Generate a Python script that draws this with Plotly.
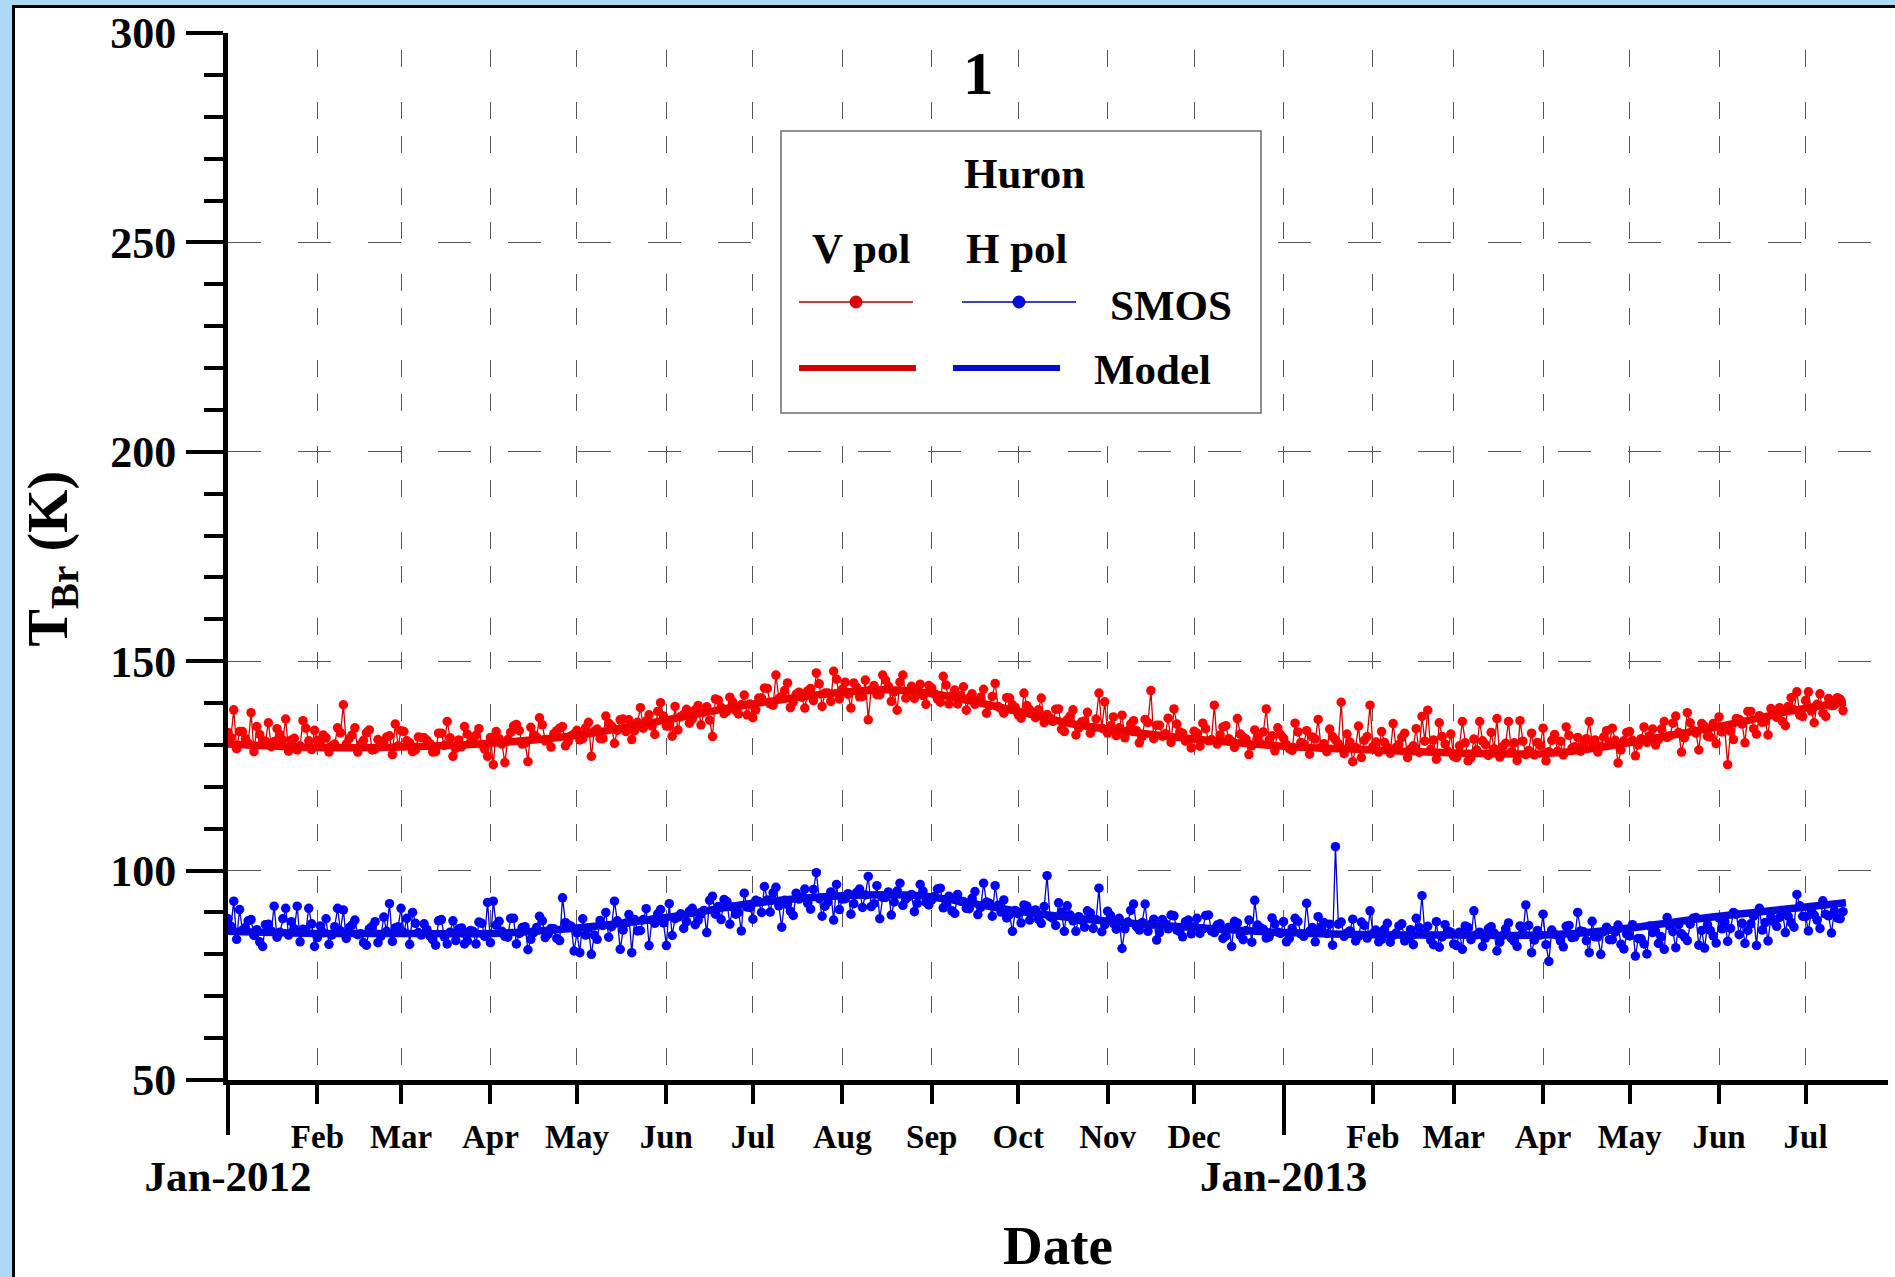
import plotly.graph_objects as go
import pandas as pd

# ---------------- data ----------------
START = pd.Timestamp("2012-01-01")
# SMOS samples: pass A on even days (0, 2, 4, ...), pass B on odd days (1, 3, 5, ...)

v_pol_smos_a = [
    133.0, 138.4, 133.2, 131.5, 137.7, 134.4, 131.0, 135.3, 130.8, 132.5, 136.2, 131.2, 128.8, 135.8, 131.0, 133.5,
    130.5, 131.7, 129.8, 134.1, 139.6, 131.5, 134.1, 130.2, 132.9, 128.8, 131.3, 130.5, 132.2, 135.0,
    133.4, 131.0, 128.4, 131.9, 131.7, 130.3, 128.4, 132.8, 135.6, 127.3, 131.2, 134.4, 130.6, 132.3, 130.1, 127.3,
    125.3, 131.5, 125.8, 133.0, 134.9, 130.2, 126.0, 132.4, 136.5, 131.0, 129.5, 133.4, 134.4, 130.8, 132.6,
    131.2, 134.1, 127.3, 133.8, 131.5, 135.2, 130.4, 136.0, 133.2, 131.3, 135.4, 134.0, 137.2, 132.5, 140.1,
    134.5, 132.1, 133.6, 137.3, 135.2, 138.4, 134.8, 139.1, 132.0, 140.7, 137.5, 141.4, 138.2, 139.6, 137.2,
    136.5, 141.2, 143.6, 139.8, 146.7, 141.5, 144.8, 140.3, 142.6, 138.8, 143.5, 147.2, 139.2, 142.4, 147.6, 141.0,
    145.0, 138.8, 143.7, 141.6, 136.0, 144.2, 142.0, 145.5, 140.4, 138.3, 146.7, 142.8, 141.1, 144.5, 139.7,
    143.6, 141.0, 146.4, 139.8, 143.1, 141.8, 138.3, 142.2, 140.6, 143.3, 139.4, 144.7, 138.7, 141.3, 139.6,
    137.2, 142.4, 138.4, 136.5, 141.2, 137.3, 135.6, 138.6, 133.2, 136.9, 132.4, 135.5, 137.8, 134.1, 142.4, 140.3,
    134.6, 132.2, 137.1, 133.4, 135.8, 130.5, 136.1, 143.0, 134.7, 132.1, 136.4, 138.6, 133.1, 130.9, 129.3,
    132.8, 135.2, 131.0, 139.5, 132.4, 134.6, 130.8, 136.3, 131.9, 127.7, 133.6, 130.4, 138.6, 132.2, 134.1,
    131.6, 129.1, 135.2, 130.6, 133.4, 131.9, 136.1, 130.3, 133.8, 131.2, 140.2, 132.6, 126.0, 134.5, 131.1, 139.5,
    130.7, 133.2, 129.4, 135.1, 130.1, 132.8, 129.0, 133.9, 136.8, 138.3, 131.2, 135.3, 130.2, 132.6,
    127.0, 135.6, 126.2, 131.4, 135.6, 130.1, 133.0, 136.3, 129.6, 135.6, 130.5, 135.8, 127.7, 132.8, 130.6,
    134.0, 128.4, 132.5, 130.9, 134.3, 129.2, 131.8, 130.1, 135.6, 131.2, 129.7, 133.4, 134.0, 125.7, 131.0,
    133.2, 127.4, 131.5, 130.6, 133.8, 131.3, 135.6, 132.2, 136.9, 128.3, 137.7, 133.5, 128.8, 134.4, 131.9, 130.3,
    133.1, 125.3, 131.3, 136.1, 130.5, 138.0, 132.6, 135.4, 132.4, 137.2, 138.9, 134.6, 141.3, 142.7, 136.8,
    142.7, 135.3, 142.2, 136.8, 139.4, 141.3, 138.2,
]

v_pol_smos_b = [
    131.8, 129.1, 133.2, 130.4, 128.4, 132.5, 130.9, 129.6, 133.9, 131.2, 128.5, 131.6, 129.8, 134.0, 128.9, 131.1, 132.4, 128.3, 130.2, 132.9,
    130.2, 132.4, 128.3, 131.1, 133.6, 129.0, 130.6, 131.9, 127.7, 129.8, 133.2, 130.5, 128.8, 131.8, 131.1, 128.3, 132.8, 129.9, 131.7, 129.2,
    129.6, 132.6, 131.1, 133.9, 129.0, 131.8, 133.2, 130.2, 131.3, 134.5, 133.4, 130.5, 134.2, 131.9, 134.8, 131.0, 132.7, 134.0, 129.8, 132.2,
    133.5, 131.5, 135.4, 133.3, 131.5, 136.9, 134.5, 133.5, 136.2, 136.0, 133.4, 138.9, 135.7, 134.5, 138.0, 136.9, 134.5, 139.2, 136.8, 138.5,
    136.2, 139.4, 137.8, 135.9, 141.0, 139.0, 138.1, 140.3, 137.4, 141.9, 139.8, 138.4, 141.2, 143.5, 139.5, 141.1, 143.0, 138.9, 142.1, 141.4,
    142.9, 140.6, 144.6, 142.4, 140.4, 145.7, 143.3, 142.1, 144.8, 141.5, 145.5, 143.2, 142.0, 146.7, 144.0, 142.7, 145.0, 141.2, 144.0, 143.2,
    141.8, 144.2, 142.2, 140.2, 144.3, 141.8, 139.8, 143.9, 141.2, 139.7, 141.4, 137.6, 141.6, 139.2, 137.6, 141.2, 139.0, 136.4, 139.4, 137.4,
    138.4, 135.3, 136.5, 138.5, 133.8, 136.0, 138.4, 134.1, 135.7, 132.8, 136.2, 134.0, 132.8, 136.7, 134.1, 131.7, 135.0, 133.4, 132.0, 135.3,
    131.5, 134.7, 132.7, 130.6, 135.0, 132.8, 131.3, 133.3, 129.7, 133.9, 131.3, 130.2, 134.3, 131.5, 129.4, 132.6, 131.4, 129.8, 131.8, 133.1,
    131.2, 128.6, 132.5, 130.1, 128.7, 133.1, 130.2, 127.8, 131.4, 129.4, 128.4, 132.0, 130.3, 127.9, 130.7, 129.4, 127.0, 132.0, 129.6, 128.3,
    130.6, 128.0, 129.4, 131.8, 127.0, 129.8, 128.2, 130.9, 128.9, 126.6, 132.0, 128.5, 127.3, 129.8, 130.5, 126.9, 128.8, 131.0, 127.5, 129.1,
    127.1, 130.4, 128.3, 126.3, 130.9, 128.7, 127.6, 129.9, 126.2, 131.1, 128.5, 127.6, 132.3, 129.6, 128.5, 131.5, 130.7, 128.3, 131.9, 130.6,
    131.1, 128.8, 133.0, 131.1, 130.0, 134.3, 132.2, 130.0, 133.8, 131.8, 135.2, 133.0, 131.7, 135.3, 132.8, 135.1, 132.1, 135.1, 136.7, 133.6,
    133.3, 136.3, 135.0, 138.0, 133.9, 137.0, 135.6, 138.7, 136.6, 135.6, 139.2, 138.4, 137.1, 140.6, 138.1, 139.7, 137.6, 141.1, 139.5, 140.9,
]

h_pol_smos_a = [
    88.5, 92.7, 90.7, 86.4, 88.3, 85.9, 81.9, 87.2, 91.5, 85.3, 91.0, 87.8, 91.5, 86.0, 91.0, 81.9,
    86.8, 88.5, 84.6, 91.0, 90.6, 86.4, 88.2, 84.9, 82.2, 86.7, 82.8, 88.9, 92.1, 86.3,
    91.0, 88.6, 90.0, 85.2, 87.3, 84.4, 82.2, 88.3, 82.5, 88.0, 86.1, 82.5, 85.7, 82.5, 87.4, 92.4,
    92.7, 87.9, 84.3, 88.6, 82.5, 86.4, 81.1, 85.2, 89.1, 84.0, 86.2, 83.8, 93.5, 87.0, 80.8,
    80.4, 84.6, 80.0, 83.6, 86.9, 84.1, 92.7, 81.2, 87.5, 80.4, 85.6, 88.3, 82.1, 87.4, 90.7,
    82.1, 84.5, 88.9, 86.2, 90.3, 87.1, 89.6, 85.2, 93.9, 91.4, 93.1, 87.2, 89.6, 85.6, 91.3,
    88.4, 92.6, 96.2, 90.1, 96.0, 86.5, 91.9, 89.3, 93.2, 95.6, 90.8, 99.5, 89.1, 92.5, 88.2, 90.7,
    93.3, 89.6, 94.8, 91.2, 98.6, 92.1, 88.5, 93.6, 89.4, 95.1, 91.7, 93.8, 90.2, 96.7, 92.4,
    93.0, 95.6, 91.1, 93.9, 89.8, 92.7, 91.0, 93.4, 89.5, 97.0, 92.2, 96.4, 90.1, 88.7, 85.5,
    89.7, 91.8, 88.2, 90.6, 87.4, 98.8, 88.6, 92.3, 85.5, 89.4, 85.5, 88.1, 90.4, 86.2, 95.8, 87.1,
    89.3, 86.0, 81.4, 87.7, 92.0, 85.8, 92.0, 87.2, 83.4, 88.3, 86.1, 89.2, 85.4, 87.8, 84.9,
    88.6, 86.1, 89.4, 85.2, 87.3, 84.4, 81.9, 87.5, 83.5, 88.2, 92.9, 86.3, 83.9, 88.7, 85.3,
    87.8, 83.8, 88.6, 84.9, 92.2, 86.4, 89.0, 87.6, 87.2, 105.7, 87.7, 85.1, 88.4, 84.3, 86.9, 90.4,
    85.8, 83.6, 87.4, 84.5, 86.8, 83.2, 85.9, 88.6, 94.0, 86.7, 82.3, 81.7, 87.1, 85.3,
    82.1, 81.2, 86.4, 90.4, 85.3, 83.9, 86.6, 80.8, 84.5, 87.5, 83.1, 86.8, 91.8, 80.4, 85.7,
    89.6, 78.3, 84.8, 83.2, 86.7, 84.0, 90.0, 85.4, 80.4, 84.2, 80.0, 86.5, 83.5, 87.0, 81.3,
    84.4, 79.6, 83.7, 80.1, 85.2, 82.6, 81.2, 86.8, 81.6, 84.9, 83.3, 88.6, 82.2, 81.5, 85.7, 82.7,
    86.1, 83.1, 90.0, 84.7, 82.6, 87.3, 82.1, 85.8, 83.2, 87.8, 88.8, 85.2, 87.6, 94.3, 89.1,
    85.6, 89.4, 86.2, 89.6, 85.1, 88.7, 90.2,
]

h_pol_smos_b = [
    86.7, 83.6, 85.8, 88.0, 84.5, 83.0, 87.1, 85.6, 84.1, 88.5, 84.6, 86.1, 83.0, 85.8, 87.3, 84.0, 85.2, 82.4, 86.6, 85.6,
    83.8, 87.0, 84.7, 82.8, 86.1, 87.8, 84.3, 85.5, 83.1, 86.6, 85.2, 82.4, 87.4, 84.6, 85.9, 83.5, 88.0, 84.2, 85.3, 83.3,
    86.3, 83.2, 85.5, 87.7, 84.3, 82.8, 87.0, 85.5, 84.1, 88.6, 85.0, 86.6, 83.6, 86.4, 88.0, 84.8, 86.1, 83.3, 87.6, 86.7,
    85.1, 88.5, 86.3, 84.6, 88.1, 90.0, 86.6, 88.0, 85.8, 89.5, 88.3, 85.7, 90.9, 88.2, 89.7, 87.5, 92.1, 88.5, 89.7, 87.8,
    91.0, 88.1, 90.5, 92.9, 89.6, 88.3, 92.6, 91.3, 90.0, 94.6, 91.2, 92.9, 90.0, 93.0, 94.7, 91.6, 92.9, 90.3, 94.6, 93.7,
    92.2, 95.5, 93.3, 91.5, 94.9, 96.7, 93.2, 94.5, 92.1, 95.6, 94.2, 91.4, 96.4, 93.6, 94.9, 92.5, 97.0, 93.2, 94.3, 92.2,
    95.1, 91.8, 93.8, 95.8, 92.1, 90.4, 94.3, 92.6, 90.9, 95.0, 91.2, 92.5, 89.1, 91.7, 93.0, 89.5, 90.5, 87.5, 91.5, 90.3,
    88.4, 91.4, 89.0, 86.9, 90.1, 91.6, 88.0, 89.0, 86.5, 89.9, 88.3, 85.4, 90.3, 87.4, 88.6, 86.1, 90.5, 86.6, 87.6, 85.5,
    88.4, 85.2, 87.3, 89.4, 85.8, 84.2, 88.2, 86.6, 85.0, 89.3, 85.6, 87.0, 83.8, 86.5, 87.9, 84.6, 85.7, 82.9, 87.0, 86.0,
    84.2, 87.3, 85.0, 83.0, 86.2, 87.9, 84.3, 85.5, 83.0, 86.5, 85.0, 82.2, 87.2, 84.3, 85.6, 83.2, 87.7, 83.9, 85.0, 83.0,
    86.0, 82.9, 85.1, 87.3, 83.8, 82.3, 86.4, 84.9, 83.4, 87.8, 84.2, 85.6, 82.5, 85.3, 86.8, 83.5, 84.7, 81.9, 86.1, 85.1,
    82.9, 86.1, 83.8, 81.9, 85.2, 86.9, 83.4, 84.6, 82.3, 85.8, 84.5, 81.8, 86.9, 84.2, 85.6, 83.3, 87.9, 84.2, 85.4, 83.5,
    85.3, 82.4, 84.8, 87.1, 83.8, 82.5, 86.8, 85.5, 84.2, 88.8, 85.4, 87.1, 84.2, 87.2, 88.8, 85.7, 87.1, 84.4, 88.7, 87.8,
    86.2, 89.6, 87.4, 85.7, 89.1, 91.0, 87.6, 89.0, 86.7, 90.4, 89.1, 86.5, 91.6, 89.0, 90.4, 88.2, 92.8, 89.2, 90.4, 88.5,
]

v_model_days = [0, 31, 60, 91, 121, 152, 182, 213, 228, 244, 274, 293, 305, 335, 366, 397, 425, 456, 471, 486, 517, 547, 561]
v_model = [130.2, 129.4, 129.5, 130.4, 132.3, 136.0, 139.8, 142.6, 143.2, 142.3, 138.0, 135.0, 133.8, 131.4,
           129.7, 128.8, 128.1, 127.9, 128.9, 130.6, 134.4, 138.8, 140.2]

h_model_days = [0, 31, 60, 91, 121, 152, 182, 213, 240, 274, 305, 335, 366, 397, 425, 456, 471, 486, 517, 547, 561]
h_model = [85.5, 85.0, 85.0, 85.0, 86.3, 88.8, 92.2, 94.0, 94.0, 90.3, 87.9, 86.4, 85.2, 84.7, 84.6, 84.6, 85.2,
           86.3, 89.1, 91.3, 92.3]

month_ticks = [d for d in pd.date_range("2012-01-01", "2013-07-01", freq="MS") if d.month != 1]
month_labels = [d.strftime("%b") for d in month_ticks]
year_ticks = [pd.Timestamp("2012-01-01"), pd.Timestamp("2013-01-01")]
year_labels = ["Jan-2012", "Jan-2013"]
y_ticks = [50, 100, 150, 200, 250, 300]

# ---------------- layout geometry ----------------
W, H = 1895, 1277
ML, MR, MT, MB = 228, 7, 33, 197
PW, PH = W - ML - MR, H - MT - MB
PX_PER_DAY = 2.884


def px(x):
    return (x - ML) / PW


def py(y):
    return 1 - (y - MT) / PH


def merge_passes(a, b):
    pts = [(2 * i, v) for i, v in enumerate(a)] + [(2 * i + 1, v) for i, v in enumerate(b)]
    pts.sort(key=lambda t: t[0])
    return [START + pd.Timedelta(days=d) for d, _ in pts], [v for _, v in pts]


def to_dates(days):
    return [START + pd.Timedelta(days=d) for d in days]


v_dates, v_vals = merge_passes(v_pol_smos_a, v_pol_smos_b)
h_dates, h_vals = merge_passes(h_pol_smos_a, h_pol_smos_b)
x_end = START + pd.Timedelta(days=PW / PX_PER_DAY)

FONT = "Liberation Serif, Times New Roman, serif"
RED, RED_DARK = "#FF0000", "#D00000"
BLUE, BLUE_DARK = "#0000FF", "#0000C8"
GRID = "#555555"
GRID_X_DASH = "0px,17px,17px,35px,17px,0px"

fig = go.Figure()

fig.add_trace(go.Scatter(x=v_dates, y=v_vals, mode="lines+markers",
                         line=dict(color=RED_DARK, width=1.3),
                         marker=dict(color=RED, size=9.5, line=dict(width=0)),
                         name="SMOS V pol", showlegend=False))
fig.add_trace(go.Scatter(x=h_dates, y=h_vals, mode="lines+markers",
                         line=dict(color=BLUE_DARK, width=1.3),
                         marker=dict(color=BLUE, size=9.5, line=dict(width=0)),
                         name="SMOS H pol", showlegend=False))
fig.add_trace(go.Scatter(x=to_dates(v_model_days), y=v_model, mode="lines",
                         line=dict(color="#EE0000", width=7.5, shape="spline", smoothing=1.0),
                         name="Model V pol", showlegend=False))
fig.add_trace(go.Scatter(x=to_dates(h_model_days), y=h_model, mode="lines",
                         line=dict(color="#0808E0", width=7.5, shape="spline", smoothing=1.0),
                         name="Model H pol", showlegend=False))
# carrier trace for the year axis
fig.add_trace(go.Scatter(x=year_ticks, y=[None, None], xaxis="x2", mode="markers",
                         showlegend=False, hoverinfo="skip"))

bold = dict(family=FONT, color="black", weight="bold")

fig.update_layout(
    width=W, height=H,
    margin=dict(l=ML, r=MR, t=MT, b=MB, pad=0),
    paper_bgcolor="#ADD8F6",
    plot_bgcolor="white",
    font=dict(family=FONT, color="black"),
    showlegend=False,
    xaxis=dict(
        type="date", range=[START, x_end],
        tickmode="array", tickvals=month_ticks, ticktext=month_labels,
        tickfont=dict(size=33, **bold),
        ticks="outside", ticklen=19, tickwidth=4, tickcolor="black",
        showline=True, linewidth=5, linecolor="black",
        showgrid=True, gridcolor=GRID, gridwidth=1.3, griddash=GRID_X_DASH,
        zeroline=False, ticklabelstandoff=4,
    ),
    xaxis2=dict(
        type="date", range=[START, x_end], overlaying="x", anchor="y", side="bottom",
        tickmode="array", tickvals=year_ticks, ticktext=year_labels,
        tickfont=dict(size=43, **bold),
        ticks="outside", ticklen=54, tickwidth=4, tickcolor="black",
        showline=False, zeroline=False, ticklabelstandoff=4,
        showgrid=True, gridcolor=GRID, gridwidth=1.3, griddash=GRID_X_DASH,
    ),
    yaxis=dict(
        range=[50, 300], tickmode="array", tickvals=y_ticks,
        tickfont=dict(size=44, **bold),
        ticks="outside", ticklen=37, tickwidth=4, tickcolor="black",
        minor=dict(dtick=10, ticks="outside", ticklen=19, tickwidth=4, tickcolor="black", showgrid=False),
        showline=True, linewidth=5, linecolor="black",
        showgrid=True, gridcolor=GRID, gridwidth=1.3, griddash="33px,37px",
        zeroline=False, ticklabelstandoff=1,
    ),
)

shapes = [
    # white page with black frame
    dict(type="rect", xref="paper", yref="paper", x0=px(13.5), x1=px(1910), y0=py(1300), y1=py(6.5),
         line=dict(color="black", width=3), fillcolor="white", layer="below"),
    # legend box
    dict(type="rect", xref="paper", yref="paper", x0=px(781), x1=px(1261), y0=py(413), y1=py(131),
         line=dict(color="#6E6E6E", width=1.5), fillcolor="white", layer="above"),
    # SMOS samples
    dict(type="line", xref="paper", yref="paper", x0=px(799), x1=px(913), y0=py(302), y1=py(302),
         line=dict(color="#B00000", width=1.5), layer="above"),
    dict(type="line", xref="paper", yref="paper", x0=px(962), x1=px(1076), y0=py(302), y1=py(302),
         line=dict(color="#0000A0", width=1.5), layer="above"),
    dict(type="circle", xref="paper", yref="paper", x0=px(850), x1=px(862), y0=py(308), y1=py(296),
         fillcolor="#E00000", line=dict(color="#B00000", width=1), layer="above"),
    dict(type="circle", xref="paper", yref="paper", x0=px(1013), x1=px(1025), y0=py(308), y1=py(296),
         fillcolor="#0010E0", line=dict(color="#0000A0", width=1), layer="above"),
    # Model samples
    dict(type="line", xref="paper", yref="paper", x0=px(799), x1=px(916), y0=py(368), y1=py(368),
         line=dict(color="#D00000", width=6), layer="above"),
    dict(type="line", xref="paper", yref="paper", x0=px(953), x1=px(1060), y0=py(368), y1=py(368),
         line=dict(color="#0010C8", width=6), layer="above"),
]
fig.update_layout(shapes=shapes)


def label(text, x, y, size, angle=0):
    return dict(text=text, xref="paper", yref="paper", x=px(x), y=py(y), showarrow=False,
                xanchor="center", yanchor="middle", textangle=angle,
                font=dict(size=size, family=FONT, color="black", weight="bold"))


fig.update_layout(annotations=[
    label("1", 978, 73.5, 61),
    label("T<sub>Br</sub> (K)", 51, 558.5, 56, angle=-90),
    label("Date", 1058, 1245, 55),
    label("Huron", 1024.6, 173, 43),
    label("V pol", 861, 248, 43),
    label("H pol", 1017, 248, 43),
    label("SMOS", 1170.5, 306, 43),
    label("Model", 1152.5, 369, 43),
])

fig.write_html("out.html")
